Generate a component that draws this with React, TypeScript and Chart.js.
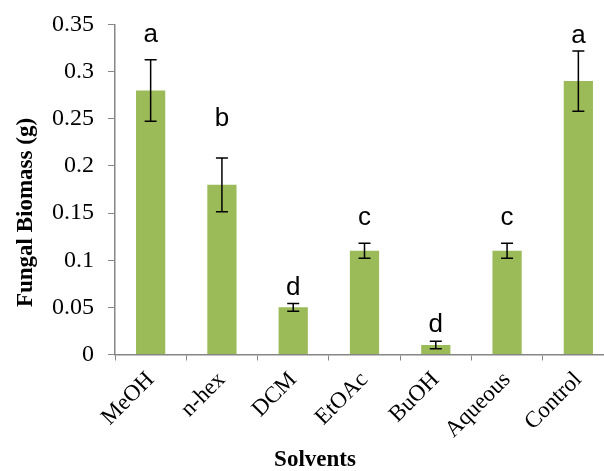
import React, { useEffect, useRef } from "react";
import { Chart, registerables } from "chart.js";

Chart.register(...registerables);

const categories = ["MeOH", "n-hex", "DCM", "EtOAc", "BuOH", "Aqueous", "Control"];
const biomass = [0.28, 0.18, 0.05, 0.11, 0.01, 0.11, 0.29];
const errors = [0.0325, 0.0285, 0.004, 0.008, 0.004, 0.008, 0.032];
const letters = ["a", "b", "d", "c", "d", "c", "a"];
const letterY = [0.3314, 0.2423, 0.0631, 0.1373, 0.0242, 0.1373, 0.3304];
const yTicks = [0, 0.05, 0.1, 0.15, 0.2, 0.25, 0.3, 0.35];
const yTitle = "Fungal Biomass (g)";
const xTitle = "Solvents";

const AXIS = "#868686";
const BAR = "#9BBB59";
const SERIF = "'Liberation Serif', 'Times New Roman', serif";

const annotations = {
  id: "annotations",
  afterDatasetsDraw(chart: any) {
    const ctx = chart.ctx;
    const x = chart.scales.x;
    const y = chart.scales.y;
    ctx.save();
    // error bars
    ctx.strokeStyle = "#000";
    ctx.lineWidth = 1.5;
    biomass.forEach((v, i) => {
      const cx = x.getPixelForValue(i);
      const top = y.getPixelForValue(v + errors[i]);
      const bot = y.getPixelForValue(v - errors[i]);
      ctx.beginPath();
      ctx.moveTo(cx, top);
      ctx.lineTo(cx, bot);
      ctx.moveTo(cx - 6, top);
      ctx.lineTo(cx + 6, top);
      ctx.moveTo(cx - 6, bot);
      ctx.lineTo(cx + 6, bot);
      ctx.stroke();
    });
    // significance letters
    ctx.fillStyle = "#000";
    ctx.font = "26px 'Liberation Sans', Arial, sans-serif";
    ctx.textAlign = "center";
    ctx.textBaseline = "alphabetic";
    letters.forEach((l, i) => {
      ctx.fillText(l, x.getPixelForValue(i), y.getPixelForValue(letterY[i]));
    });
    // x title
    ctx.font = "bold 23px " + SERIF;
    ctx.fillText(xTitle, x.left + 200, chart.height - 5);
    // y title
    ctx.translate(32, (y.top + y.bottom) / 2 + 23);
    ctx.rotate(-Math.PI / 2);
    ctx.fillText(yTitle, 0, 0);
    ctx.restore();
  },
};

export default function App() {
  const ref = useRef<HTMLCanvasElement>(null);
  useEffect(() => {
    const chart = new Chart(ref.current!, {
      type: "bar",
      data: {
        labels: categories,
        datasets: [
          {
            data: biomass,
            backgroundColor: BAR,
            barPercentage: 0.41,
            categoryPercentage: 1,
          },
        ],
      },
      options: {
        animation: false,
        responsive: false,
        layout: { padding: { top: 24.5, left: 0, right: 0, bottom: 0 } },
        plugins: { legend: { display: false }, tooltip: { enabled: false } },
        scales: {
          x: {
            grid: {
              display: true,
              drawOnChartArea: false,
              drawTicks: true,
              tickLength: 6,
              color: AXIS,
              offset: true,
            },
            border: { display: true, color: AXIS, width: 1.5 },
            ticks: {
              color: "#000",
              maxRotation: 45,
              minRotation: 45,
              padding: 6,
              font: { family: SERIF, size: 23 },
            },
            afterFit(scale: any) {
              scale.height = 116.5;
              scale.paddingLeft = 0;
              scale.paddingRight = 0;
            },
          },
          y: {
            min: 0,
            max: 0.35,
            afterBuildTicks(scale: any) {
              scale.ticks = yTicks.map((v) => ({ value: v }));
            },
            grid: {
              display: true,
              drawOnChartArea: false,
              drawTicks: true,
              tickLength: 7,
              color: AXIS,
            },
            border: { display: true, color: AXIS, width: 1.5 },
            ticks: {
              color: "#000",
              padding: 14,
              font: { family: SERIF, size: 24 },
              callback: (v: any) => String(Number(v)),
            },
            afterFit(scale: any) {
              scale.width = 115;
              scale.paddingTop = 0;
              scale.paddingBottom = 0;
            },
          },
        },
      },
      plugins: [annotations],
    });
    return () => chart.destroy();
  }, []);
  return (
    <div style={{ position: "absolute", left: 0, top: 0, width: 604, height: 471, overflow: "hidden", background: "#fff" }}>
      <canvas ref={ref} width={614} height={471} style={{ display: "block" }} />
    </div>
  );
}
